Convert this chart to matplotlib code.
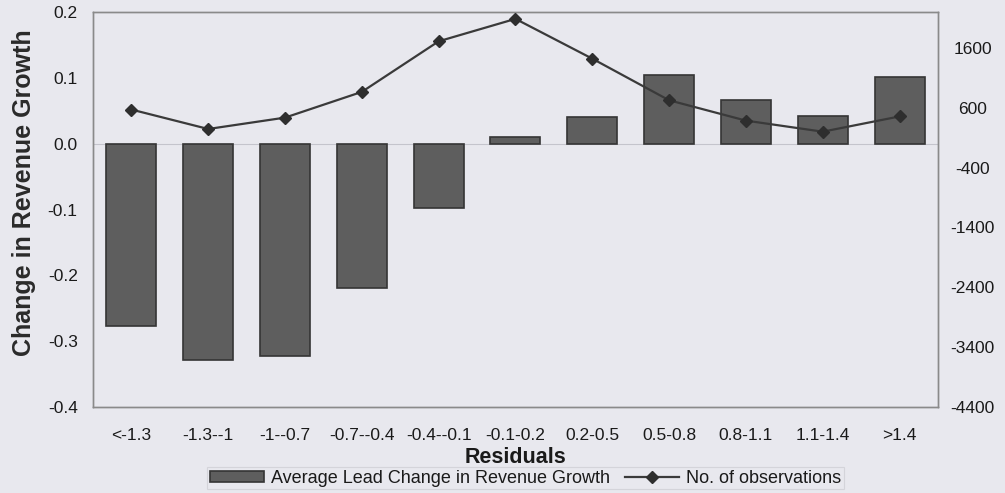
import matplotlib
matplotlib.use("Agg")
import matplotlib.pyplot as plt
from matplotlib.ticker import FixedLocator, FuncFormatter

plt.rcParams['font.family'] = ['Liberation Sans', 'DejaVu Sans']

# Residual bins
categories = ['<-1.3', '-1.3--1', '-1--0.7', '-0.7--0.4', '-0.4--0.1', '-0.1-0.2',
              '0.2-0.5', '0.5-0.8', '0.8-1.1', '1.1-1.4', '>1.4']
# Average lead change in revenue growth (left axis)
avg_change = [-0.277, -0.328, -0.322, -0.219, -0.098, 0.010,
              0.040, 0.104, 0.066, 0.042, 0.102]
# Number of observations (right axis)
n_obs = [570, 245, 435, 865, 1710, 2085, 1420, 725, 385, 200, 455]

left_ticks = [-0.4, -0.3, -0.2, -0.1, 0.0, 0.1, 0.2]
right_ticks = [-4400, -3400, -2400, -1400, -400, 600, 1600]

bg = '#e8e8ee'
bar_color = '#5e5e5e'
edge_color = '#353535'
line_color = '#3a3a3a'
spine_color = '#8a8a8a'
text_color = '#1a1a1a'

fig = plt.figure(figsize=(10.05, 4.93), dpi=100, facecolor=bg)
ax = fig.add_axes([0.0925, 0.1744, 0.8408, 0.8013])
ax.set_facecolor(bg)

x = list(range(len(categories)))
ax.axhline(0, color='#c4c4cc', lw=0.8, zorder=1)
bars = ax.bar(x, avg_change, width=0.65, color=bar_color, edgecolor=edge_color,
              linewidth=1.2, zorder=2, label='Average Lead Change in Revenue Growth')
ax.set_xlim(-0.5, len(categories) - 0.5)
ax.set_ylim(-0.4, 0.2)
ax.yaxis.set_major_locator(FixedLocator(left_ticks))
ax.yaxis.set_major_formatter(FuncFormatter(lambda v, p: f'{v:.1f}'))
ax.set_xticks(x)
ax.set_xticklabels(categories)
ax.tick_params(axis='both', length=0, labelsize=12.5, colors=text_color)
ax.tick_params(axis='y', pad=11)
ax.tick_params(axis='x', pad=15)
for s in ax.spines.values():
    s.set_color(spine_color)
    s.set_linewidth(1.0)

ax.set_ylabel('Change in Revenue Growth', fontsize=18, fontweight='bold',
              color='#2a2a2a', va='center')
ax.yaxis.set_label_coords(-0.0817, 0.542)
ax.set_xlabel('Residuals', fontsize=15.5, fontweight='bold', color=text_color,
              va='center')
ax.xaxis.set_label_coords(0.5, -0.127)

ax2 = ax.twinx()
ax2.set_ylim(-4400, 2200)
ax2.yaxis.set_major_locator(FixedLocator(right_ticks))
ax2.yaxis.set_major_formatter(FuncFormatter(lambda v, p: f'{int(v)}'))
line, = ax2.plot(x, n_obs, color=line_color, lw=1.6, marker='D', markersize=6.5,
                 markerfacecolor='#2e2e2e', markeredgecolor='#2e2e2e', zorder=3,
                 label='No. of observations')
ax2.tick_params(axis='y', length=0, labelsize=12.5, colors=text_color, pad=25)
for lbl in ax2.get_yticklabels():
    lbl.set_horizontalalignment('center')
for s in ax2.spines.values():
    s.set_color(spine_color)
    s.set_linewidth(1.0)

leg = fig.legend(handles=[bars, line], loc='center', bbox_to_anchor=(0.523, 0.0304),
                 ncol=2, fontsize=13, frameon=True, fancybox=False,
                 handlelength=3.0, handleheight=0.55, handletextpad=0.4,
                 columnspacing=0.8, borderpad=0.15, borderaxespad=0)
leg.get_frame().set_facecolor(bg)
leg.get_frame().set_edgecolor('#d0d0d6')
leg.get_frame().set_linewidth(0.8)
for t in leg.get_texts():
    t.set_color(text_color)

fig.savefig('out.png', dpi=100, facecolor=bg)
